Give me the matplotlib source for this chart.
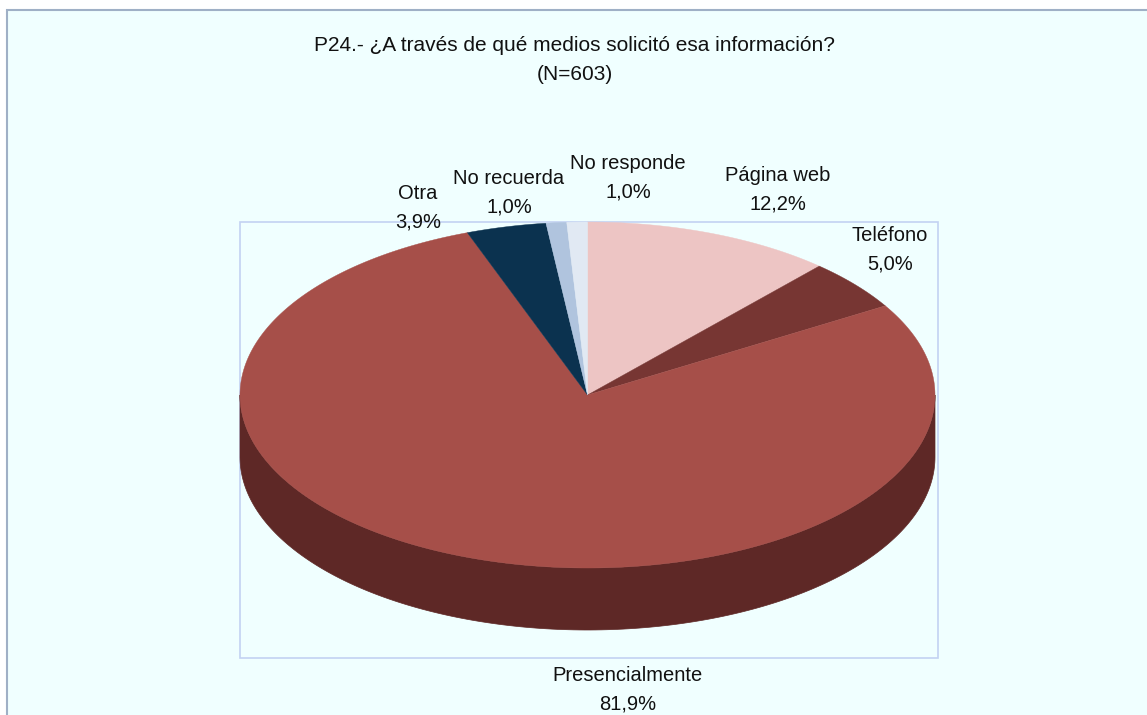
import numpy as np
import matplotlib
matplotlib.use("Agg")
import matplotlib.pyplot as plt
from matplotlib.patches import Polygon, Rectangle
from matplotlib import font_manager

title = "P24.- ¿A través de qué medios solicitó esa información?\n(N=603)"
categories = ["Página web", "Teléfono", "Presencialmente", "Otra", "No recuerda", "No responde"]
values = [12.2, 5.0, 81.9, 3.9, 1.0, 1.0]
top_colors = ["#EDC5C4", "#773633", "#A64F49", "#0B324F", "#B0C4DE", "#E1E9F3"]
side_colors = ["#8E7676", "#472020", "#5E2826", "#071E30", "#6A7686", "#878C92"]

# layout (pixel coordinates)
W, H = 1147, 715
cx, cy, rx, ry, depth = 587.5, 395.0, 347.5, 173.0, 62.0
label_xy = [(778, 190), (890, 250), (628, 690), (418, 208), (509, 193), (628, 178)]

names = [f.name for f in font_manager.fontManager.ttflist]
fam = "Liberation Sans Narrow" if "Liberation Sans Narrow" in names else "Liberation Sans"

fig = plt.figure(figsize=(W / 100, H / 100), dpi=100)
fig.patch.set_facecolor("white")
ax = fig.add_axes([0, 0, 1, 1])
ax.set_xlim(0, W)
ax.set_ylim(H, 0)
ax.axis("off")

ax.add_patch(Rectangle((7, 10), W + 20, H + 20, facecolor="#F0FFFF", edgecolor="#9FB0C6", lw=1.5))
ax.add_patch(Rectangle((240, 222), 698, 436, facecolor="none", edgecolor="#C3D2F2", lw=1.2, zorder=1))

tot = sum(values)
angles = [v / tot * 360 for v in values]
starts = []
a = 90.0
for ang in angles:
    starts.append(a)
    a -= ang

def pt(th_deg, dy=0.0):
    t = np.radians(th_deg)
    return cx + rx * np.cos(t), cy - ry * np.sin(t) + dy

# side walls (front half: theta in [-180, 0] mod 360)
for s, ang, sc in zip(starts, angles, side_colors):
    e = s - ang
    for k in (-2, -1, 0, 1):
        lo, hi = max(e, -180 + 360 * k), min(s, 0 + 360 * k)
        if hi > lo:
            ths = np.linspace(hi, lo, 200)
            top = [pt(t) for t in ths]
            bot = [pt(t, depth) for t in ths[::-1]]
            ax.add_patch(Polygon(top + bot, closed=True, facecolor=sc, edgecolor=sc, lw=0.5, zorder=2))

# top faces
for s, ang, tc in zip(starts, angles, top_colors):
    ths = np.linspace(s, s - ang, max(int(ang * 3), 4))
    verts = [(cx, cy)] + [pt(t) for t in ths]
    ax.add_patch(Polygon(verts, closed=True, facecolor=tc, edgecolor=tc, lw=0.3, zorder=3))

for (x, y), c, v in zip(label_xy, categories, values):
    ax.text(x, y, f"{c}\n{v:.1f}%".replace(".", ","), ha="center", va="center",
            fontsize=14.5, family=fam, color="#111111", linespacing=1.62, zorder=5)

ax.text(575, 60, title, ha="center", va="center", fontsize=15, family=fam,
        color="#111111", linespacing=1.68, zorder=5)

fig.savefig("out.png", dpi=100, facecolor=fig.get_facecolor())
